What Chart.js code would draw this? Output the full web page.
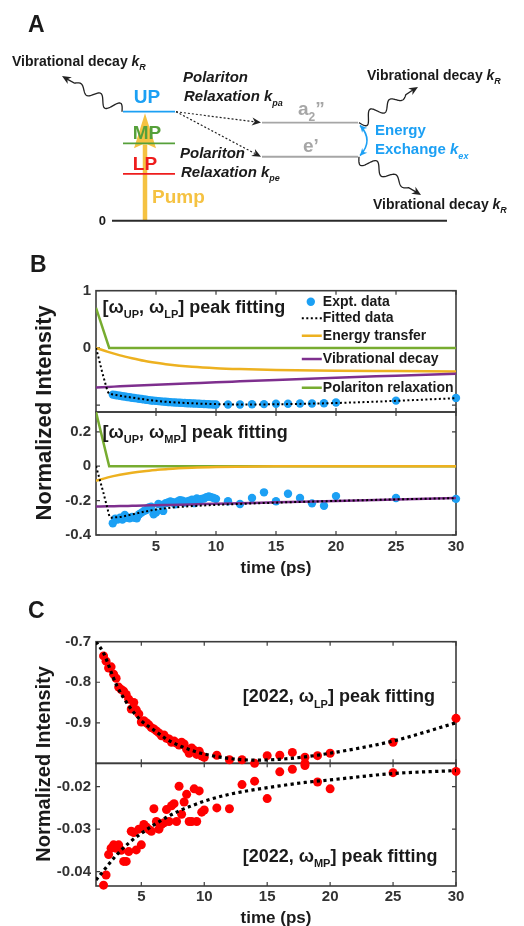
<!DOCTYPE html>
<html>
<head>
<meta charset="utf-8">
<title>Polariton relaxation kinetics</title>
<script src="https://cdn.jsdelivr.net/npm/chart.js@4.4.1/dist/chart.umd.min.js"></script>
<style>
  html, body { margin: 0; padding: 0; background: #fff; }
  #page { position: relative; width: 524px; height: 926px; overflow: hidden; }
  #page canvas { position: absolute; left: 0; }
</style>
</head>
<body>
<div id="page">
  <canvas id="schemeA" width="524" height="240" style="top:0px"></canvas>
  <canvas id="kineticsB" width="524" height="340" style="top:240px"></canvas>
  <canvas id="kineticsC" width="524" height="341" style="top:585px"></canvas>
</div>
<script>
const FONT = '"Liberation Sans", Arial, Helvetica, sans-serif';
const INK = '#1a1a1a', TICK = '#333333', AXIS = '#3c3c3c';
const BLUE = '#1ca0f4', RED = '#ff0000', ORANGE = '#edb120', PURPLE = '#7e2f8e', GREEN = '#77ac30';

// ---------- A: level scheme (energy in units of the UP level) ----------
const levelNames  = ['ground', 'LP', 'MP', 'UP', "e'", 'a2"'];
const levelEnergy = [0, 0.43, 0.71, 1.0, 0.587, 0.90];
const levelColors = ['#2a2a2a', '#ee1d1d', '#56a03a', BLUE, '#a6a6a6', '#a6a6a6'];
const levelSpan   = [[112, 447], [123, 175], [123, 175], [123, 175], [262, 358], [262, 358]];

// ---------- B: cross peaks [wUP, wLP] (top) and [wUP, wMP] (bottom) ----------
const bExptTime = [1.4, 1.6, 1.8, 2.0, 2.2, 2.4, 2.6, 2.8, 3.0, 3.2, 3.4, 3.6, 3.8, 4.0, 4.2, 4.4,
  4.6, 4.8, 5.0, 5.2, 5.4, 5.6, 5.8, 6.0, 6.2, 6.4, 6.6, 6.8, 7.0, 7.2, 7.4, 7.6, 7.8, 8.0, 8.2,
  8.4, 8.6, 8.8, 9.0, 9.2, 9.4, 9.6, 9.8, 10, 11, 12, 13, 14, 15, 16, 17, 18, 19, 20, 25, 30];
const bUpLpExpt = [-0.816, -0.823, -0.83, -0.837, -0.844, -0.85, -0.857, -0.863, -0.87, -0.876,
  -0.882, -0.888, -0.894, -0.9, -0.906, -0.912, -0.918, -0.922, -0.926, -0.93, -0.934, -0.938,
  -0.941, -0.945, -0.948, -0.951, -0.954, -0.956, -0.959, -0.961, -0.963, -0.966, -0.968, -0.97,
  -0.972, -0.974, -0.976, -0.978, -0.98, -0.982, -0.984, -0.986, -0.988, -0.99,
  -0.99, -0.99, -0.985, -0.982, -0.975, -0.975, -0.972, -0.972, -0.968, -0.955, -0.921, -0.874];
const bUpMpExpt = [-0.332, -0.305, -0.31, -0.30, -0.31, -0.283, -0.30, -0.303, -0.295, -0.30,
  -0.303, -0.279, -0.27, -0.26, -0.255, -0.24, -0.235, -0.279, -0.27, -0.22, -0.225, -0.26,
  -0.215, -0.211, -0.205, -0.21, -0.222, -0.205, -0.197, -0.20, -0.211, -0.205, -0.20, -0.195,
  -0.215, -0.187, -0.195, -0.19, -0.188, -0.18, -0.176, -0.18, -0.185, -0.19,
  -0.204, -0.22, -0.185, -0.152, -0.204, -0.16, -0.185, -0.216, -0.23, -0.174, -0.185, -0.19];
const bLpFitTime = [0, 0.25, 0.5, 0.75, 1, 1.25, 1.5, 2, 3, 4, 5, 6, 7, 8, 9, 10, 12, 15, 20, 25, 30];
const bUpLpFit = [0, -0.2, -0.41, -0.6, -0.77, -0.805, -0.815, -0.835, -0.868, -0.898, -0.924,
  -0.944, -0.958, -0.968, -0.976, -0.982, -0.988, -0.985, -0.963, -0.925, -0.878];
const bMpFitTime = [0, 0.3, 0.6, 0.9, 1.2, 1.5, 2, 3, 4, 5, 6, 8, 10, 15, 20, 25, 30];
const bUpMpFit = [0, -0.075, -0.15, -0.23, -0.3, -0.298, -0.295, -0.28, -0.265, -0.252, -0.243,
  -0.232, -0.225, -0.212, -0.202, -0.193, -0.186];
const bCompTime = [0, 1, 2, 3, 4, 5, 6, 8, 10, 12, 15, 20, 25, 30];
const bUpLpTransfer = [0, -0.07, -0.13, -0.18, -0.225, -0.26, -0.29, -0.33, -0.355, -0.37, -0.385, -0.4, -0.405, -0.41];
const bUpMpTransfer = [-0.085, -0.065, -0.05, -0.038, -0.029, -0.022, -0.016, -0.009, -0.005, -0.003, -0.001, 0, 0, 0];
const bUpLpVib = [-0.69, -0.681, -0.672, -0.663, -0.654, -0.645, -0.636, -0.618, -0.60, -0.584, -0.56, -0.52, -0.485, -0.45];
const bUpMpVib = [-0.235, -0.233, -0.232, -0.23, -0.228, -0.227, -0.225, -0.222, -0.218, -0.215, -0.21, -0.202, -0.193, -0.185];
const bRelaxTime = [0, 1.1, 30];
const bUpLpRelax = [0.7, 0, 0];
const bUpMpRelax = [0.315, 0, 0];

// ---------- C: cross peaks [2022, wLP] (top) and [2022, wMP] (bottom) ----------
const cDenseTime = [2.0, 2.2, 2.4, 2.6, 2.8, 3.0, 3.2, 3.4, 3.6, 3.8, 4.0, 4.2, 4.4, 4.6, 4.8,
  5.0, 5.2, 5.4, 5.6, 5.8, 6.0, 6.2, 6.4, 6.6, 6.8, 7.0, 7.2, 7.4, 7.6, 7.8, 8.0, 8.2, 8.4, 8.6,
  8.8, 9.0, 9.2, 9.4, 9.6, 9.8, 10.0];
const cLpTime = cDenseTime.concat([11, 12, 13, 14, 15, 16, 17, 18, 18, 19, 20, 25, 30]);
const cMpTime = cDenseTime.concat([11, 12, 13, 14, 15, 16, 17, 18, 19, 20, 25, 30]);
const cLpExpt = [-0.735, -0.748, -0.765, -0.762, -0.780, -0.790, -0.812, -0.818, -0.822, -0.830,
  -0.842, -0.866, -0.850, -0.868, -0.878, -0.898, -0.895, -0.900, -0.905, -0.912, -0.915, -0.920,
  -0.925, -0.932, -0.930, -0.938, -0.940, -0.948, -0.945, -0.950, -0.955, -0.948, -0.952, -0.965,
  -0.975, -0.962, -0.968, -0.978, -0.970, -0.982, -0.985,
  -0.98, -0.991, -0.991, -1.0, -0.981, -0.98, -0.973, -0.985, -1.0, -0.981, -0.975, -0.948, -0.889];
const cMpExpt = [-0.0432, -0.0408, -0.0360, -0.0345, -0.0337, -0.0345, -0.0337, -0.0350, -0.0376,
  -0.0376, -0.0353, -0.0305, -0.0308, -0.0349, -0.0300, -0.0337, -0.0289, -0.0295, -0.0301,
  -0.0305, -0.0252, -0.0282, -0.0300, -0.0289, -0.0285, -0.0254, -0.0282, -0.0245, -0.0240,
  -0.0282, -0.0199, -0.0265, -0.0236, -0.0218, -0.0282, -0.0282, -0.0205, -0.0282, -0.0210,
  -0.0260, -0.0255,
  -0.0250, -0.0252, -0.0195, -0.0187, -0.0228, -0.0165, -0.0159, -0.0150, -0.0189, -0.0205, -0.0167, -0.0164];
const cFitTime = [1.4, 2, 3, 4, 5, 6, 7, 8, 9, 10, 12, 14, 16, 18, 20, 25, 30];
const cLpFit = [-0.70, -0.728, -0.805, -0.858, -0.895, -0.918, -0.94, -0.956, -0.968, -0.977,
  -0.988, -0.992, -0.99, -0.984, -0.975, -0.945, -0.90];
const cMpFit = [-0.042, -0.0398, -0.0362, -0.0333, -0.031, -0.029, -0.0272, -0.0257, -0.0245,
  -0.0234, -0.0218, -0.0207, -0.0198, -0.019, -0.0184, -0.0169, -0.0162];

// ---------- ticks ----------
const timeTicks = [5, 10, 15, 20, 25, 30];
const timeTickLabels = ['5', '10', '15', '20', '25', '30'];
const bUpLpTicks = [-1, 0, 1], bUpLpTickLabels = ['', '0', '1'];
const bUpMpTicks = [-0.4, -0.2, 0, 0.2], bUpMpTickLabels = ['-0.4', '-0.2', '0', '0.2'];
const cLpTicks = [-0.9, -0.8, -0.7], cLpTickLabels = ['-0.9', '-0.8', '-0.7'];
const cMpTicks = [-0.04, -0.03, -0.02], cMpTickLabels = ['-0.04', '-0.03', '-0.02'];

function pts(xs, ys) {
  return xs.map((x, i) => ({x, y: ys[i]}));
}

// text with subscripts / italics; parts are strings or {t, sub, it}
function drawRich(ctx, x, y, parts, size, opt) {
  opt = opt || {};
  const items = parts.map(p => typeof p === 'string' ? {t: p} : Object.assign({}, p));
  let w = 0;
  items.forEach(p => {
    const s = p.sub ? Math.round(size * 0.62) : size;
    ctx.font = (p.it || opt.italic ? 'italic ' : '') + 'bold ' + s + 'px ' + FONT;
    p.font = ctx.font;
    p.w = ctx.measureText(p.t).width;
    p.dy = p.sub ? size * 0.3 : 0;
    w += p.w;
  });
  let cx = opt.align === 'center' ? x - w / 2 : opt.align === 'right' ? x - w : x;
  ctx.textAlign = 'left';
  ctx.textBaseline = 'alphabetic';
  items.forEach(p => {
    ctx.font = p.font;
    ctx.fillText(p.t, cx, y + p.dy);
    cx += p.w;
  });
}

function arrowHead(ctx, x, y, ux, uy, len, half) {
  const nx = -uy, ny = ux;
  ctx.beginPath();
  ctx.moveTo(x, y);
  ctx.lineTo(x - ux * len + nx * half, y - uy * len + ny * half);
  ctx.lineTo(x - ux * len * 0.7, y - uy * len * 0.7);
  ctx.lineTo(x - ux * len - nx * half, y - uy * len - ny * half);
  ctx.closePath();
  ctx.fill();
}

function wavyArrow(ctx, x0, y0, x1, y1) {
  const dx = x1 - x0, dy = y1 - y0, L = Math.hypot(dx, dy);
  const ux = dx / L, uy = dy / L, nx = -uy, ny = ux;
  const waveLen = L - 14;
  ctx.beginPath();
  ctx.moveTo(x0, y0);
  for (let s = 0; s <= waveLen; s += 0.5) {
    const amp = 7 * (1 - 0.6 * s / waveLen);
    const off = amp * Math.sin(s / waveLen * Math.PI * 5);
    ctx.lineTo(x0 + ux * s + nx * off, y0 + uy * s + ny * off);
  }
  ctx.lineTo(x1 - ux * 6, y1 - uy * 6);
  ctx.stroke();
  arrowHead(ctx, x1, y1, ux, uy, 9, 4);
}

const vibDecay = ['Vibrational decay ', {t: 'k', it: true}, {t: 'R', sub: true, it: true}];
const schemeText = [
  {x: 28, e: 1.734, size: 23, color: INK, parts: ['A']},
  {x: 12, e: 1.422, size: 14, color: INK, parts: vibDecay},
  {x: 183, e: 1.275, size: 15, color: INK, italic: true, parts: ['Polariton']},
  {x: 184, e: 1.098, size: 15, color: INK, italic: true, parts: ['Relaxation k', {t: 'pa', sub: true}]},
  {x: 147, e: 1.077, size: 19, color: BLUE, align: 'center', parts: ['UP']},
  {x: 147, e: 0.747, size: 19, color: '#56a03a', align: 'center', parts: ['MP']},
  {x: 145, e: 0.465, size: 19, color: '#ee1d1d', align: 'center', parts: ['LP']},
  {x: 180, e: 0.572, size: 15, color: INK, italic: true, parts: ['Polariton']},
  {x: 181, e: 0.404, size: 15, color: INK, italic: true, parts: ['Relaxation k', {t: 'pe', sub: true}]},
  {x: 152, e: 0.16, size: 19, color: '#f5c242', parts: ['Pump']},
  {x: 106, e: -0.04, size: 13, color: INK, align: 'right', parts: ['0']},
  {x: 298, e: 0.97, size: 19, color: '#a6a6a6', parts: ['a', {t: '2', sub: true}, '\u201d']},
  {x: 303, e: 0.633, size: 19, color: '#a6a6a6', parts: ['e\u2019']},
  {x: 367, e: 1.291, size: 14, color: INK, parts: vibDecay},
  {x: 375, e: 0.786, size: 15, color: BLUE, parts: ['Energy']},
  {x: 375, e: 0.612, size: 15, color: BLUE, parts: ['Exchange ', {t: 'k', it: true}, {t: 'ex', sub: true, it: true}]},
  {x: 373, e: 0.105, size: 14, color: INK, parts: vibDecay}
];

const schemePlugin = {
  id: 'scheme',
  beforeDatasetsDraw(chart) {
    const ctx = chart.ctx;
    const X = v => chart.scales.x.getPixelForValue(v);
    const Y = v => chart.scales.y.getPixelForValue(v);
    // pump arrow: ground state up to UP
    const px = X(145);
    ctx.save();
    ctx.strokeStyle = '#f5c242';
    ctx.fillStyle = '#f5c242';
    ctx.lineWidth = 4.5;
    ctx.beginPath();
    ctx.moveTo(px, Y(0));
    ctx.lineTo(px, Y(0.7));
    ctx.stroke();
    ctx.beginPath();
    ctx.moveTo(px, Y(0.985));
    ctx.lineTo(px + 11, Y(0.665));
    ctx.lineTo(px, Y(0.71));
    ctx.lineTo(px - 11, Y(0.665));
    ctx.closePath();
    ctx.fill();
    ctx.restore();
  },
  afterDatasetsDraw(chart) {
    const ctx = chart.ctx;
    const X = v => chart.scales.x.getPixelForValue(v);
    const Y = v => chart.scales.y.getPixelForValue(v);
    ctx.save();
    // polariton relaxation (dotted) UP -> a2'' and UP -> e'
    ctx.strokeStyle = '#222';
    ctx.fillStyle = '#222';
    ctx.lineWidth = 1.2;
    [levelEnergy[5], levelEnergy[4]].forEach(e => {
      const sx = X(176), sy = Y(levelEnergy[3]), tx = X(261), ty = Y(e);
      const L = Math.hypot(tx - sx, ty - sy), ux = (tx - sx) / L, uy = (ty - sy) / L;
      ctx.setLineDash([2, 2]);
      ctx.beginPath();
      ctx.moveTo(sx, sy);
      ctx.lineTo(tx - ux * 7, ty - uy * 7);
      ctx.stroke();
      ctx.setLineDash([]);
      arrowHead(ctx, tx, ty, ux, uy, 9, 4);
    });
    // vibrational decay (wavy)
    ctx.lineWidth = 1.3;
    wavyArrow(ctx, X(122), Y(levelEnergy[3]), X(62), Y(1.327));
    wavyArrow(ctx, X(359), Y(levelEnergy[5]), X(418), Y(1.227));
    wavyArrow(ctx, X(359), Y(levelEnergy[4]), X(421), Y(0.236));
    // energy exchange between a2'' and e'
    ctx.strokeStyle = BLUE;
    ctx.fillStyle = BLUE;
    ctx.lineWidth = 1.6;
    const ax = X(360), ay = Y(0.875), bx = X(360), by = Y(0.597), cx = X(374), cy = (ay + by) / 2;
    ctx.beginPath();
    ctx.moveTo(ax, ay);
    ctx.quadraticCurveTo(cx, cy, bx, by);
    ctx.stroke();
    [[ax, ay], [bx, by]].forEach(([x, y]) => {
      const L = Math.hypot(x - cx, y - cy);
      arrowHead(ctx, x, y, (x - cx) / L, (y - cy) / L, 7, 3.5);
    });
    // labels
    schemeText.forEach(s => {
      ctx.fillStyle = s.color;
      drawRich(ctx, X(s.x), Y(s.e), s.parts, s.size, {italic: s.italic, align: s.align});
    });
    ctx.restore();
  }
};

function scatterSet(label, xs, ys, axis, color, r) {
  return {label, data: pts(xs, ys), yAxisID: axis, showLine: false, pointRadius: r,
    pointBackgroundColor: color, pointBorderColor: color, pointBorderWidth: 0, clip: false, order: 10};
}
function lineSet(label, xs, ys, axis, color, width, dash, smooth, order) {
  return {label, data: pts(xs, ys), yAxisID: axis, showLine: true, pointRadius: 0,
    borderColor: color, borderWidth: width, borderDash: dash || [], fill: false,
    cubicInterpolationMode: smooth ? 'monotone' : 'default', tension: 0, order};
}

function kineticsPlugin(spec) {
  return {
    id: 'kinetics',
    beforeDatasetsDraw(chart) {
      const ctx = chart.ctx, a = chart.chartArea, xs = chart.scales.x;
      ctx.save();
      ctx.strokeStyle = AXIS;
      spec.panels.forEach(p => {
        const ys = chart.scales[p.axis];
        ctx.lineWidth = 1.6;
        ctx.strokeRect(a.left, ys.top, a.right - a.left, ys.bottom - ys.top);
        ctx.lineWidth = 1.2;
        ctx.beginPath();
        timeTicks.forEach(v => {
          const x = xs.getPixelForValue(v);
          ctx.moveTo(x, ys.top); ctx.lineTo(x, ys.top + 4);
          ctx.moveTo(x, ys.bottom); ctx.lineTo(x, ys.bottom - 4);
        });
        p.ticks.forEach(v => {
          const y = ys.getPixelForValue(v);
          ctx.moveTo(a.left, y); ctx.lineTo(a.left + 4, y);
          ctx.moveTo(a.right, y); ctx.lineTo(a.right - 4, y);
        });
        ctx.stroke();
      });
      ctx.restore();
    },
    afterDraw(chart) {
      const ctx = chart.ctx, a = chart.chartArea, xs = chart.scales.x;
      ctx.save();
      ctx.font = 'bold 15px ' + FONT;
      ctx.fillStyle = TICK;
      ctx.textBaseline = 'middle';
      ctx.textAlign = 'right';
      spec.panels.forEach(p => {
        const ys = chart.scales[p.axis];
        p.ticks.forEach((v, i) => ctx.fillText(p.labels[i], a.left - 5, ys.getPixelForValue(v)));
      });
      ctx.textAlign = 'center';
      timeTicks.forEach((v, i) => ctx.fillText(timeTickLabels[i], xs.getPixelForValue(v), a.bottom + spec.xLabelGap));
      ctx.fillStyle = INK;
      spec.panels.forEach(p => {
        const ys = chart.scales[p.axis];
        drawRich(ctx, xs.getPixelForValue(p.note.x), ys.getPixelForValue(p.note.y), p.note.parts, 18);
      });
      ctx.font = 'bold 17px ' + FONT;
      ctx.textAlign = 'center';
      ctx.textBaseline = 'alphabetic';
      ctx.fillText('time (ps)', (a.left + a.right) / 2, a.bottom + spec.xTitleGap);
      ctx.save();
      ctx.translate(spec.yTitleX, (a.top + a.bottom) / 2);
      ctx.rotate(-Math.PI / 2);
      ctx.font = 'bold ' + spec.yTitleSize + 'px ' + FONT;
      ctx.fillText('Normalized Intensity', 0, 0);
      ctx.restore();
      ctx.font = 'bold 23px ' + FONT;
      ctx.textAlign = 'left';
      ctx.fillText(spec.letter, spec.letterX, spec.letterY);
      if (spec.legend) {
        const ys = chart.scales[spec.legend.axis];
        const lx = xs.getPixelForValue(spec.legend.x);
        spec.legend.rows.forEach(row => {
          const ds = chart.data.datasets.find(d => d.label === row.label);
          const y = ys.getPixelForValue(row.y);
          if (ds.showLine) {
            ctx.strokeStyle = ds.borderColor;
            ctx.lineWidth = ds.borderWidth;
            ctx.setLineDash(ds.borderDash);
            ctx.beginPath();
            ctx.moveTo(lx, y);
            ctx.lineTo(lx + 20, y);
            ctx.stroke();
            ctx.setLineDash([]);
          } else {
            ctx.fillStyle = ds.pointBackgroundColor;
            ctx.beginPath();
            ctx.arc(lx + 9, y, ds.pointRadius, 0, Math.PI * 2);
            ctx.fill();
          }
          ctx.fillStyle = INK;
          ctx.font = 'bold 14px ' + FONT;
          ctx.textAlign = 'left';
          ctx.textBaseline = 'middle';
          ctx.fillText(row.label, lx + 21, y);
        });
      }
      ctx.restore();
    }
  };
}

const baseOptions = {
  responsive: false,
  animation: false,
  devicePixelRatio: 1,
  events: [],
  plugins: {legend: {display: false}, tooltip: {enabled: false}}
};

// ---------- A ----------
new Chart(document.getElementById('schemeA'), {
  type: 'scatter',
  data: {
    datasets: levelNames.map((name, i) => ({
      label: name,
      data: [{x: levelSpan[i][0], y: levelEnergy[i]}, {x: levelSpan[i][1], y: levelEnergy[i]}],
      showLine: true,
      borderColor: levelColors[i],
      borderWidth: i === 0 ? 2 : 1.8,
      pointRadius: 0,
      clip: false
    }))
  },
  options: Object.assign({}, baseOptions, {
    layout: {padding: 0},
    scales: {
      x: {type: 'linear', min: 0, max: 524, display: false},
      y: {type: 'linear', min: -0.177, max: 2.025, display: false}
    }
  }),
  plugins: [schemePlugin]
});

// ---------- B ----------
new Chart(document.getElementById('kineticsB'), {
  type: 'scatter',
  data: {
    datasets: [
      lineSet('Fitted data', bLpFitTime, bUpLpFit, 'yTop', '#000', 2, [2, 2.5], true, 1),
      lineSet('Vibrational decay', bCompTime, bUpLpVib, 'yTop', PURPLE, 2.5, null, true, 2),
      lineSet('Energy transfer', bCompTime, bUpLpTransfer, 'yTop', ORANGE, 2.5, null, true, 3),
      lineSet('Polariton relaxation', bRelaxTime, bUpLpRelax, 'yTop', GREEN, 2.5, null, false, 4),
      scatterSet('Expt. data', bExptTime, bUpLpExpt, 'yTop', BLUE, 4.2),
      lineSet('fit MP', bMpFitTime, bUpMpFit, 'yBot', '#000', 2, [2, 2.5], true, 1),
      lineSet('vib MP', bCompTime, bUpMpVib, 'yBot', PURPLE, 2.5, null, true, 2),
      lineSet('transfer MP', bCompTime, bUpMpTransfer, 'yBot', ORANGE, 2.5, null, true, 3),
      lineSet('relax MP', bRelaxTime, bUpMpRelax, 'yBot', GREEN, 2.5, null, false, 4),
      scatterSet('expt MP', bExptTime, bUpMpExpt, 'yBot', BLUE, 4.2)
    ]
  },
  options: Object.assign({}, baseOptions, {
    layout: {padding: {top: 50.7, left: 96, right: 68, bottom: 45}},
    scales: {
      x: {type: 'linear', min: 0, max: 30, display: false},
      yBot: {type: 'linear', position: 'left', min: -0.4, max: 0.315, display: false, stack: 'b', stackWeight: 123},
      yTop: {type: 'linear', position: 'left', min: -1.12, max: 1, display: false, stack: 'b', stackWeight: 121.3}
    }
  }),
  plugins: [kineticsPlugin({
    letter: 'B', letterX: 30, letterY: 31.7, xLabelGap: 12.3, xTitleGap: 37.5,
    yTitleX: 51, yTitleSize: 22,
    panels: [
      {axis: 'yTop', ticks: bUpLpTicks, labels: bUpLpTickLabels,
        note: {x: 0.55, y: 0.615, parts: ['[\u03c9', {t: 'UP', sub: true}, ', \u03c9', {t: 'LP', sub: true}, '] peak fitting']}},
      {axis: 'yBot', ticks: bUpMpTicks, labels: bUpMpTickLabels,
        note: {x: 0.55, y: 0.166, parts: ['[\u03c9', {t: 'UP', sub: true}, ', \u03c9', {t: 'MP', sub: true}, '] peak fitting']}}
    ],
    legend: {axis: 'yTop', x: 17.15, rows: [
      {label: 'Expt. data', y: 0.808},
      {label: 'Fitted data', y: 0.517},
      {label: 'Energy transfer', y: 0.213},
      {label: 'Vibrational decay', y: -0.194},
      {label: 'Polariton relaxation', y: -0.696}
    ]}
  })]
});

// ---------- C ----------
new Chart(document.getElementById('kineticsC'), {
  type: 'scatter',
  data: {
    datasets: [
      lineSet('fit LP', cFitTime, cLpFit, 'yTop', '#000', 3.2, [3.2, 3.4], true, 1),
      scatterSet('expt LP', cLpTime, cLpExpt, 'yTop', RED, 4.5),
      lineSet('fit MP', cFitTime, cMpFit, 'yBot', '#000', 3.2, [3.2, 3.4], true, 1),
      scatterSet('expt MP', cMpTime, cMpExpt, 'yBot', RED, 4.5)
    ]
  },
  options: Object.assign({}, baseOptions, {
    layout: {padding: {top: 56.7, left: 96, right: 68, bottom: 40}},
    scales: {
      x: {type: 'linear', min: 1.4, max: 30, display: false},
      yBot: {type: 'linear', position: 'left', min: -0.0434, max: -0.0145, display: false, stack: 'c', stackWeight: 122},
      yTop: {type: 'linear', position: 'left', min: -1.0, max: -0.7, display: false, stack: 'c', stackWeight: 121}
    }
  }),
  plugins: [kineticsPlugin({
    letter: 'C', letterX: 28, letterY: 33.3, xLabelGap: 11, xTitleGap: 36.7,
    yTitleX: 50, yTitleSize: 20,
    panels: [
      {axis: 'yTop', ticks: cLpTicks, labels: cLpTickLabels,
        note: {x: 13.05, y: -0.849, parts: ['[2022, \u03c9', {t: 'LP', sub: true}, '] peak fitting']}},
      {axis: 'yBot', ticks: cMpTicks, labels: cMpTickLabels,
        note: {x: 13.05, y: -0.0377, parts: ['[2022, \u03c9', {t: 'MP', sub: true}, '] peak fitting']}}
    ]
  })]
});
</script>
</body>
</html>
